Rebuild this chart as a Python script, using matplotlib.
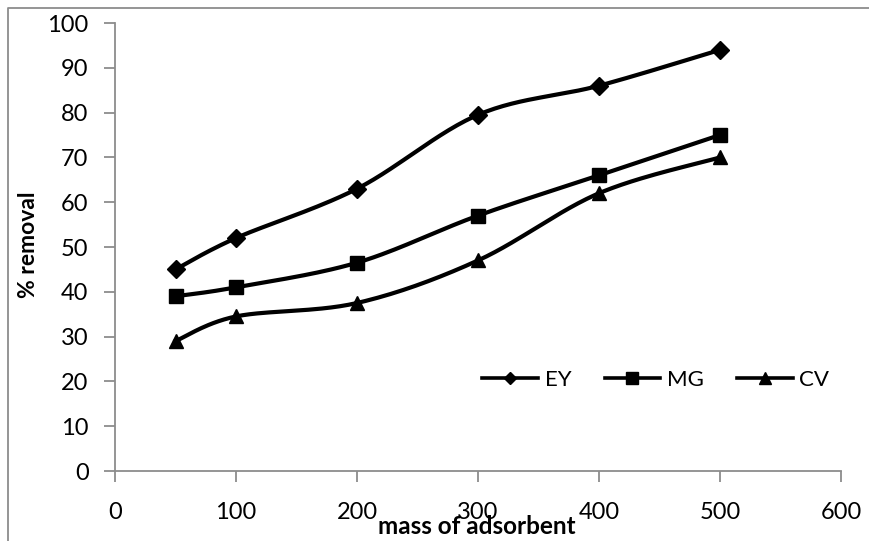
import numpy as np
import matplotlib.pyplot as plt
from matplotlib.lines import Line2D

plt.rcParams['font.family'] = ['Lato', 'DejaVu Sans']

mass = [50, 100, 200, 300, 400, 500]
ey = [45, 52, 63, 79.5, 86, 94]
mg = [39, 41, 46.5, 57, 66, 75]
cv = [29, 34.5, 37.5, 47, 62, 70]


def smooth(x, y, n=30):
    # Excel-style smoothed line: cubic Bezier segments with Catmull-Rom control points
    x = np.asarray(x, float)
    y = np.asarray(y, float)
    px = np.concatenate([[x[0]], x, [x[-1]]])
    py = np.concatenate([[y[0]], y, [y[-1]]])
    t = np.linspace(0, 1, n)[:, None]
    out = []
    for i in range(1, len(x)):
        p0 = np.array([px[i], py[i]])
        p3 = np.array([px[i + 1], py[i + 1]])
        p1 = p0 + (p3 - np.array([px[i - 1], py[i - 1]])) / 6
        p2 = p3 - (np.array([px[i + 2], py[i + 2]]) - p0) / 6
        seg = ((1 - t) ** 3) * p0 + 3 * ((1 - t) ** 2) * t * p1 + 3 * (1 - t) * t ** 2 * p2 + t ** 3 * p3
        out.append(seg)
    pts = np.vstack(out)
    return pts[:, 0], pts[:, 1]


fig = plt.figure(figsize=(8.7, 5.41), dpi=100)
ax = fig.add_axes([115 / 870, 1 - 471 / 541, (841 - 115) / 870, (471 - 23) / 541])

for vals, mk, ms in [(ey, 'D', 9.5), (mg, 's', 10), (cv, '^', 10)]:
    sx, sy = smooth(mass, vals)
    ax.plot(sx, sy, color='black', lw=3)
    ax.plot(mass, vals, ls='none', marker=mk, ms=ms, color='black')

handles = [Line2D([], [], color='black', lw=2.6, marker=m, ms=s) for m, s in [('D', 6.5), ('s', 8), ('^', 8)]]
ax.legend(handles, ['EY', 'MG', 'CV'], ncol=3, frameon=False, fontsize=16,
          loc='center', bbox_to_anchor=(0.745, 0.203), handlelength=2.5,
          handletextpad=0.3, columnspacing=1.5)

ax.set_xlim(0, 600)
ax.set_ylim(0, 100)
ax.set_xticks(range(0, 601, 100))
ax.set_yticks(range(0, 101, 10))
for s in ['top', 'right']:
    ax.spines[s].set_visible(False)
for s in ['left', 'bottom']:
    ax.spines[s].set_color('#8c8c8c')
    ax.spines[s].set_linewidth(1.3)
ax.tick_params(direction='out', length=8, width=1.3, color='#8c8c8c', labelsize=17)
ax.tick_params(axis='x', pad=14)
ax.tick_params(axis='y', pad=11)

fig.text(477 / 870, 1 - 527 / 541, 'mass of adsorbent', ha='center', va='center',
         fontsize=17.5, fontweight='bold')
fig.text(29 / 870, 1 - 245 / 541, '% removal', ha='center', va='center',
         rotation=90, fontsize=16.5, fontweight='bold')

# outer chart frame (only left and top edges are inside the image)
fig.add_artist(Line2D([8.5 / 870, 8.5 / 870, 1], [0, 1 - 7.5 / 541, 1 - 7.5 / 541],
                      transform=fig.transFigure, color='#8c8c8c', lw=1.3))

fig.savefig('out.png', dpi=100)
